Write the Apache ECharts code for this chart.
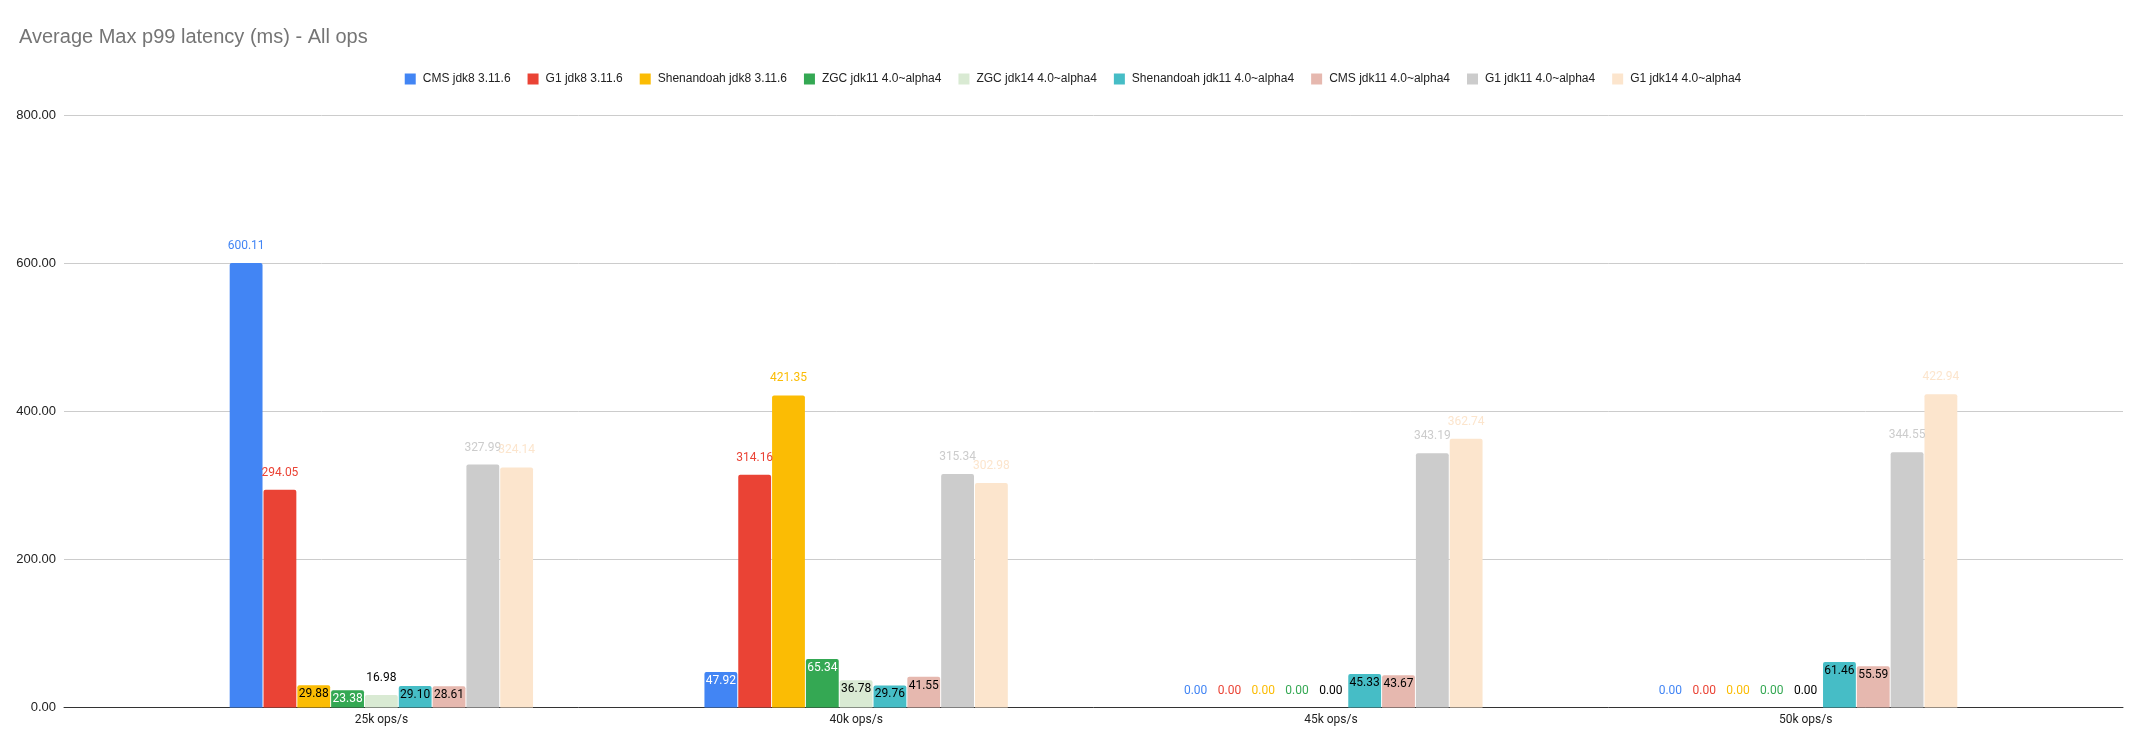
<!DOCTYPE html>
<html>
<head>
<meta charset="utf-8">
<script src="https://cdn.jsdelivr.net/npm/echarts@6/dist/echarts.min.js"></script>
<style>
html,body{margin:0;padding:0;background:#fff;}
#chart{width:2146px;height:753px;}
</style>
</head>
<body>
<div id="chart"></div>
<script>
// ---- data ----
const categories = ['25k ops/s', '40k ops/s', '45k ops/s', '50k ops/s'];
const seriesNames = [
  'CMS jdk8 3.11.6', 'G1 jdk8 3.11.6', 'Shenandoah jdk8 3.11.6',
  'ZGC jdk11 4.0~alpha4', 'ZGC jdk14 4.0~alpha4', 'Shenandoah jdk11 4.0~alpha4',
  'CMS jdk11 4.0~alpha4', 'G1 jdk11 4.0~alpha4', 'G1 jdk14 4.0~alpha4'
];
const cmsJdk8 = [600.11, 47.92, 0.00, 0.00];
const g1Jdk8 = [294.05, 314.16, 0.00, 0.00];
const shenJdk8 = [29.88, 421.35, 0.00, 0.00];
const zgcJdk11 = [23.38, 65.34, 0.00, 0.00];
const zgcJdk14 = [16.98, 36.78, 0.00, 0.00];
const shenJdk11 = [29.10, 29.76, 45.33, 61.46];
const cmsJdk11 = [28.61, 41.55, 43.67, 55.59];
const g1Jdk11 = [327.99, 315.34, 343.19, 344.55];
const g1Jdk14 = [324.14, 302.98, 362.74, 422.94];
const yTicks = [0, 200, 400, 600, 800];

// ---- style ----
const values = [cmsJdk8, g1Jdk8, shenJdk8, zgcJdk11, zgcJdk14, shenJdk11, cmsJdk11, g1Jdk11, g1Jdk14];
const colors = ['#4285f4', '#ea4335', '#fbbc04', '#34a853', '#d9ead3', '#46bdc6', '#e6b8af', '#cccccc', '#fce5cd'];
const insideWhite = [true, false, false, true, false, false, false, false, false];
const outsideColors = ['#4285f4', '#ea4335', '#fbbc04', '#34a853', '#000000', '#46bdc6', '#e6b8af', '#cccccc', '#fce5cd'];

const GRID_TOP = 115, GRID_BOTTOM = 45.5;
const labelFont = 'Roboto';

function makeData(arr, si) {
  return arr.map(function (v) {
    let label;
    if (v >= 20 && v < 100) {
      label = {
        position: v < 27 ? 'inside' : 'insideTop',
        distance: 3,
        color: insideWhite[si] ? '#ffffff' : '#000000'
      };
    } else {
      label = { position: 'top', distance: 11, color: outsideColors[si] };
    }
    return { value: v, label: label };
  });
}

const series = values.map(function (arr, si) {
  return {
    name: seriesNames[si],
    type: 'bar',
    xAxisIndex: 1,
    yAxisIndex: 1,
    barGap: '3%',
    barCategoryGap: '36.1%',
    itemStyle: { color: colors[si], borderRadius: [2, 2, 0, 0] },
    label: {
      show: true,
      fontFamily: labelFont,
      fontSize: 12,
      formatter: function (p) { return p.value.toFixed(2); }
    },
    data: makeData(arr, si)
  };
});

const chart = echarts.init(document.getElementById('chart'), null, { renderer: 'canvas' });
chart.setOption({
  backgroundColor: '#ffffff',
  animation: false,
  color: colors,
  title: {
    text: 'Average Max p99 latency (ms) - All ops',
    left: 14,
    top: 22,
    textStyle: { fontFamily: 'Liberation Sans', fontSize: 20, fontWeight: 'normal', color: '#757575' }
  },
  legend: {
    data: seriesNames,
    top: 68,
    left: 'center',
    icon: 'rect',
    itemWidth: 11,
    itemHeight: 11,
    itemGap: 17,
    textStyle: { fontFamily: 'Liberation Sans', fontSize: 12, color: '#222222', padding: [0, 0, 0, 2] }
  },
  grid: [
    { left: 64, right: 23, top: GRID_TOP, bottom: GRID_BOTTOM },
    { left: 144, right: 103, top: GRID_TOP, bottom: GRID_BOTTOM }
  ],
  xAxis: [
    {
      type: 'category', gridIndex: 0, data: [''],
      axisLine: { show: true, lineStyle: { color: '#333333', width: 1 } },
      axisTick: { show: false }, axisLabel: { show: false }, splitLine: { show: false }
    },
    {
      type: 'category', gridIndex: 1, data: categories,
      axisLine: { show: false }, axisTick: { show: false },
      axisLabel: { fontFamily: 'Roboto', fontSize: 12, color: '#222222', margin: 6 }
    }
  ],
  yAxis: [
    {
      type: 'value', gridIndex: 0, min: yTicks[0], max: yTicks[yTicks.length - 1], interval: yTicks[1] - yTicks[0],
      axisLine: { show: false }, axisTick: { show: false },
      axisLabel: { fontFamily: 'Liberation Sans', fontSize: 13, color: '#222222', margin: 8,
        formatter: function (v) { return v.toFixed(2); } },
      splitLine: { lineStyle: { color: '#cccccc', width: 1 } }
    },
    {
      type: 'value', gridIndex: 1, min: yTicks[0], max: yTicks[yTicks.length - 1], interval: yTicks[1] - yTicks[0],
      axisLine: { show: false }, axisTick: { show: false }, axisLabel: { show: false }, splitLine: { show: false }
    }
  ],
  series: series
});
</script>
</body>
</html>
